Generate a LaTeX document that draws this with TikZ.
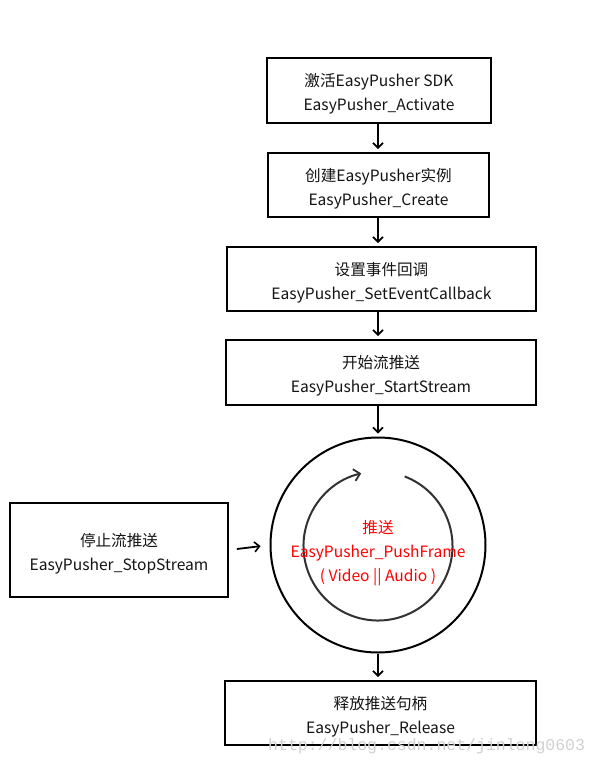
\documentclass[tikz,border=0pt]{standalone}
\usepackage{fontspec}
\setmainfont{Noto Sans CJK SC}
\newfontfamily\wmfont{Liberation Mono}
\usetikzlibrary{arrows.meta}
\definecolor{txt}{RGB}{20,20,20}
\definecolor{inner}{RGB}{50,50,50}
\newcommand{\topstrut}{\rule{0pt}{20.5pt}}
\tikzset{
  stepbox/.style={draw=black, line width=2pt, rectangle, align=center, text=txt,
    font=\fontsize{15.6}{24}\selectfont, inner sep=0pt},
  arr/.style={line width=1.8pt, -{Straight Barb[length=5pt,width=10pt,line width=1.6pt]}},
}
\begin{document}
\begin{tikzpicture}[x=1pt,y=-1pt]
\useasboundingbox (0,0) rectangle (600,764);
\fill[white] (0,0) rectangle (600,764);
\coordinate (c) at (378,0);
\node[stepbox, minimum width=224, minimum height=65] (b1) at (379,90.5) {\topstrut 激活EasyPusher SDK\\EasyPusher\_Activate};
\node[stepbox, minimum width=221, minimum height=64] (b2) at (378.5,185) {\topstrut 创建EasyPusher实例\\EasyPusher\_Create};
\node[stepbox, minimum width=309, minimum height=64] (b3) at (381.5,279) {\topstrut 设置事件回调\\EasyPusher\_SetEventCallback};
\node[stepbox, minimum width=310, minimum height=65] (b4) at (381,372.5) {\topstrut 开始流推送\\EasyPusher\_StartStream};
\node[draw=black, line width=2pt, circle, minimum size=215, inner sep=0pt] (circ) at (378,545) {};
\draw[inner, line width=2pt, -{Straight Barb[length=6pt,width=12pt,line width=1.8pt]}] (378,546) ++(-69:74.5) arc[start angle=-69, end angle=257, radius=74.5];
\node[align=center, text=red, font=\fontsize{15.6}{24}\selectfont, inner sep=0pt] (ptext) at (378,549) {\topstrut 推送\\EasyPusher\_PushFrame\\( Video || Audio )};
\node[stepbox, minimum width=218, minimum height=94] (stop) at (119,550) {\topstrut 停止流推送\\EasyPusher\_StopStream};
\node[stepbox, minimum width=311, minimum height=64] (rel) at (380.5,713) {\topstrut 释放推送句柄\\EasyPusher\_Release};
\draw[arr, shorten >=3pt] (b1.south -| c) -- (b2.north -| c);
\draw[arr, shorten >=3pt] (b2.south -| c) -- (b3.north -| c);
\draw[arr, shorten >=3pt] (b3.south -| c) -- (b4.north -| c);
\draw[arr, shorten >=3pt] (b4.south -| c) -- (circ.north);
\draw[arr, shorten >=3pt] (circ.south) -- (rel.north -| c);
\draw[arr, shorten <=8pt, shorten >=9pt] (stop.east) -- (circ.west);
\node[anchor=base west, inner sep=0pt, text=black!18, font=\wmfont\fontsize{16.5}{18}\selectfont] (wm) at (268,750) {http://blog.csdn.net/jinlong0603};
\end{tikzpicture}
\end{document}
